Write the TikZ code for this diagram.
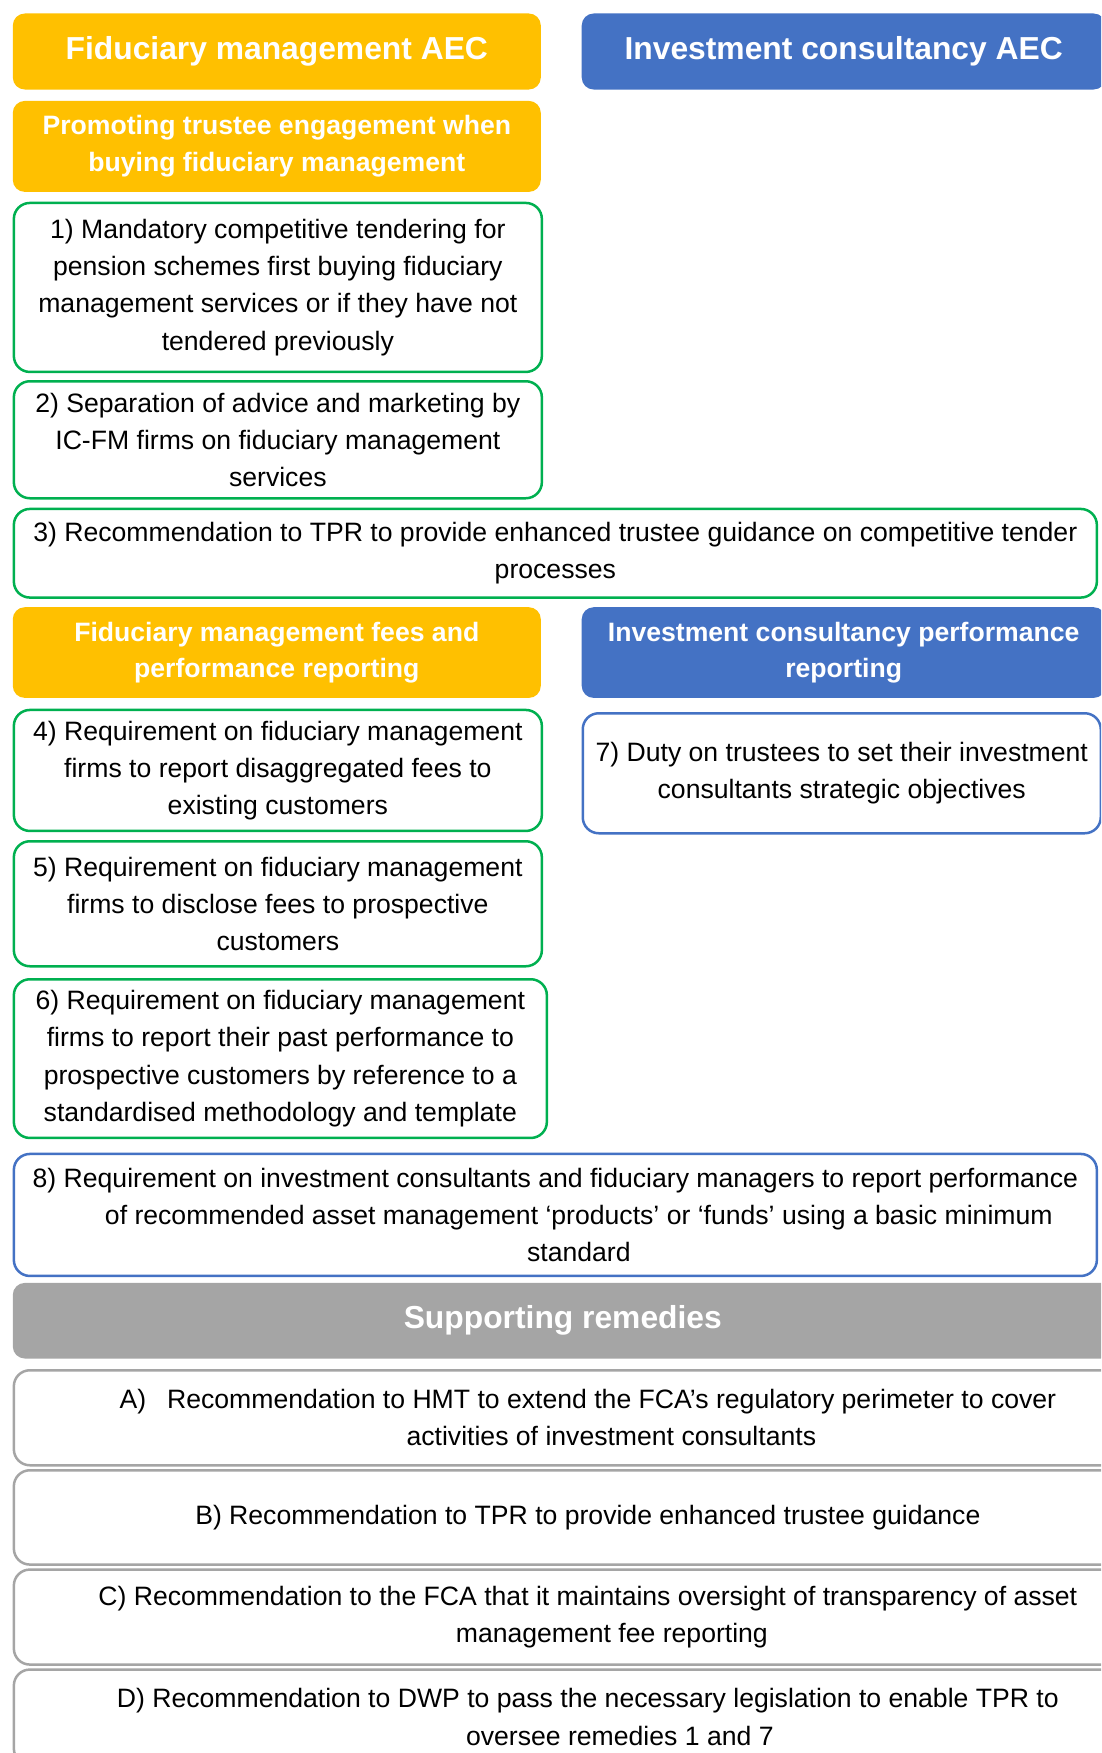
\documentclass[tikz,border=0pt]{standalone}
\usepackage{fontspec}
\setmainfont{Liberation Sans}
\usepackage{xcolor}
\usepackage{tikz}
\definecolor{fm_gold}{HTML}{FFC000}
\definecolor{ic_blue}{HTML}{4472C4}
\definecolor{rem_green}{HTML}{00B050}
\definecolor{supp_grey}{HTML}{A5A5A5}

\begin{document}
\begin{tikzpicture}[
                x=1pt,
                y=-1pt,
                every node/.style={anchor=north west, align=center, inner sep=0pt},
                head/.style={rounded corners=12pt, text=white, font=\bfseries\fontsize{31.8}{38}\selectfont},
                subhead/.style={rounded corners=12pt, text=white, font=\bfseries\fontsize{26.6}{36.7}\selectfont},
                remedy/.style={draw, fill=white, line width=2.5pt, rounded corners=16pt, font=\fontsize{26.6}{37.2}\selectfont},
            ]
            % Page size
            \useasboundingbox (0,0) rectangle (1101,1753);
            \clip (0,0) rectangle (1101,1753);

            % Define column widths
            \def\colw{528}
            \def\icw{524}
            \def\fullw{1083}

            % Headers of the two AECs
            \node[head, fill=fm_gold, minimum width=\colw, minimum height=76] (fmaec) at (12.6,13.3) {Fiduciary management AEC};
            \node[head, fill=ic_blue, minimum width=\icw, minimum height=76] (icaec) at (581.5,13.3) {Investment consultancy AEC};

            % Promoting trustee engagement
            \node[subhead, fill=fm_gold, minimum width=\colw, minimum height=91] (promo) at (12.6,100.7) {Promoting trustee engagement when\\buying fiduciary management};
            \node[remedy, draw=rem_green, minimum width=\colw, minimum height=169] (rem1) at (12.6,201.7) {1) Mandatory competitive tendering for\\pension schemes first buying fiduciary\\management services or if they have not\\tendered previously};
            \node[remedy, draw=rem_green, minimum width=\colw, minimum height=117] (rem2) at (12.6,380) {2) Separation of advice and marketing by\\IC-FM firms on fiduciary management\\services};
            \node[remedy, draw=rem_green, minimum width=\fullw, minimum height=88.6] (rem3) at (12.6,507.7) {3) Recommendation to TPR to provide enhanced trustee guidance on competitive tender\\processes};

            % Fees and performance reporting
            \node[subhead, fill=fm_gold, minimum width=\colw, minimum height=90.7] (fmfees) at (12.6,607) {Fiduciary management fees and\\performance reporting};
            \node[subhead, fill=ic_blue, minimum width=\icw, minimum height=90.7] (icperf) at (581.5,607) {Investment consultancy performance\\reporting};
            \node[remedy, draw=rem_green, minimum width=\colw, minimum height=121] (rem4) at (12.6,708.7) {4) Requirement on fiduciary management\\firms to report disaggregated fees to\\existing customers};
            \node[remedy, draw=ic_blue, minimum width=518, minimum height=120] (rem7) at (581.5,712) {7) Duty on trustees to set their investment\\consultants strategic objectives};
            \node[remedy, draw=rem_green, minimum width=\colw, minimum height=125] (rem5) at (12.6,840) {5) Requirement on fiduciary management\\firms to disclose fees to prospective\\customers};
            \node[remedy, draw=rem_green, minimum width=533, minimum height=158.7] (rem6) at (12.6,978) {6) Requirement on fiduciary management\\firms to report their past performance to\\prospective customers by reference to a\\standardised methodology and template};
            \node[remedy, draw=ic_blue, minimum width=\fullw, minimum height=122] (rem8) at (12.6,1152.7) {8) Requirement on investment consultants and fiduciary managers to report performance\\\hspace*{47pt}of recommended asset management ‘products’ or ‘funds’ using a basic minimum\\\hspace*{47pt}standard};

            % Supporting remedies
            \node[head, fill=supp_grey, minimum width=1100, minimum height=75.6] (supp) at (12.6,1282.7) {Supporting remedies};
            \node[remedy, draw=supp_grey, minimum width=1148, minimum height=95] (remA) at (12.6,1369) {A)\hspace{21pt}Recommendation to HMT to extend the FCA’s regulatory perimeter to cover\\\hspace*{47pt}activities of investment consultants};
            \node[remedy, draw=supp_grey, minimum width=1148, minimum height=94.3] (remB) at (12.6,1469) {B) Recommendation to TPR to provide enhanced trustee guidance};
            \node[remedy, draw=supp_grey, minimum width=1148, minimum height=95] (remC) at (12.6,1568.3) {C) Recommendation to the FCA that it maintains oversight of transparency of asset\\\hspace*{48pt}management fee reporting};
            \node[remedy, draw=supp_grey, minimum width=1148, minimum height=95] (remD) at (12.6,1668.3) {D) Recommendation to DWP to pass the necessary legislation to enable TPR to\\\hspace*{64pt}oversee remedies 1 and 7};
        \end{tikzpicture}
\end{document}
